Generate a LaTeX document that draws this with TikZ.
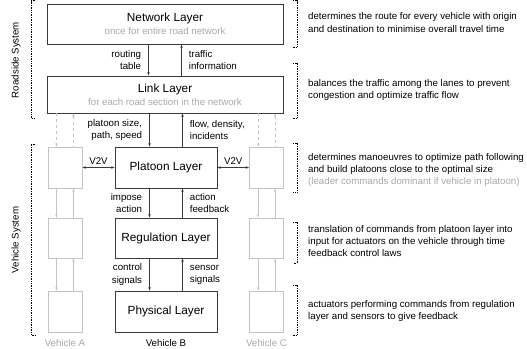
\documentclass[tikz,border=0pt]{standalone}
\usepackage{fontspec}
\setmainfont{Liberation Sans}
\usetikzlibrary{arrows.meta}

\definecolor{boxline}{HTML}{3A3A3A}
\definecolor{ghost}{HTML}{C4C4C4}
\definecolor{subtext}{HTML}{A8A8A8}
\newcommand{\layerfont}{\fontsize{11.8}{14}\selectfont}
\newcommand{\notefont}{\fontsize{9.7}{12.2}\selectfont}

\begin{document}
\begin{tikzpicture}[x=1pt,y=-1pt,
		>={Stealth[length=3.5pt,width=2.6pt]},
		layer/.style={rectangle,draw=boxline,line width=0.9pt,align=center,inner sep=0pt,font=\notefont},
		ghostbox/.style={rectangle,draw=ghost,line width=0.9pt,minimum width=34pt},
		ghostline/.style={draw=ghost,line width=0.9pt},
		flow/.style={draw=boxline,line width=0.8pt},
		note/.style={font=\notefont,align=left,anchor=west,inner sep=0pt},
		leftlbl/.style={font=\notefont,align=right,anchor=east,inner sep=0pt,xshift=-7pt},
		rightlbl/.style={font=\notefont,align=left,anchor=west,inner sep=0pt,xshift=7pt},
		lbl/.style={font=\notefont,inner sep=0pt},
		bracket/.style={densely dotted,line width=0.7pt}]
		\useasboundingbox (0,0) rectangle (527,348);

		% roadside system
		\node[layer,minimum width=236pt,minimum height=40pt] (network) at (165,24)
			{{\layerfont Network Layer}\\[1pt]{\color{subtext}once for entire road network}};
		\node[layer,minimum width=236pt,minimum height=37pt] (link) at (165,94.5)
			{{\layerfont Link Layer}\\[1pt]{\color{subtext}for each road section in the network}};

		% vehicle B
		\node[layer,minimum width=102pt,minimum height=41pt] (platoon) at (166,167.5) {\layerfont Platoon Layer};
		\node[layer,minimum width=102pt,minimum height=40pt] (regulation) at (166,238) {\layerfont Regulation Layer};
		\node[layer,minimum width=102pt,minimum height=41pt] (physical) at (166,311.5) {\layerfont Physical Layer};

		% vehicles A and C
		\node[ghostbox,minimum height=41pt] (a1) at (65,167.5) {};
		\node[ghostbox,minimum height=40pt] (a2) at (65,238) {};
		\node[ghostbox,minimum height=41pt] (a3) at (65,311.5) {};
		\node[ghostbox,minimum height=41pt] (c1) at (266.5,167.5) {};
		\node[ghostbox,minimum height=40pt] (c2) at (266.5,238) {};
		\node[ghostbox,minimum height=41pt] (c3) at (266.5,311.5) {};

		\node[lbl,text=subtext] (vehA) at (65,343) {Vehicle A};
		\node[lbl] (vehB) at (166,343) {Vehicle B};
		\node[lbl,text=subtext] (vehC) at (266.5,343) {Vehicle C};

		% connections
		\draw[flow,->] ([xshift=-16.5pt]network.south) -- node[leftlbl] {routing\\table} ([xshift=-16.5pt]link.north);
		\draw[flow,<-] ([xshift=16.5pt]network.south) -- node[rightlbl] {traffic\\information} ([xshift=16.5pt]link.north);
		\draw[flow,->] ([xshift=-16.5pt]platoon.north |- link.south) -- node[leftlbl] {platoon size,\\path, speed} ([xshift=-16.5pt]platoon.north);
		\draw[flow,<-] ([xshift=16.5pt]platoon.north |- link.south) -- node[rightlbl] {flow, density,\\incidents} ([xshift=16.5pt]platoon.north);
		\draw[flow,->] ([xshift=-16.5pt]platoon.south) -- node[leftlbl] {impose\\action} ([xshift=-16.5pt]regulation.north);
		\draw[flow,<-] ([xshift=16.5pt]platoon.south) -- node[rightlbl] {action\\feedback} ([xshift=16.5pt]regulation.north);
		\draw[flow,->] ([xshift=-16.5pt]regulation.south) -- node[leftlbl] {control\\signals} ([xshift=-16.5pt]physical.north);
		\draw[flow,<-] ([xshift=16.5pt]regulation.south) -- node[rightlbl] {sensor\\signals} ([xshift=16.5pt]physical.north);
		\draw[flow,<->] (a1) -- node[lbl,above=3pt] {V2V} (platoon);
		\draw[flow,<->] (platoon) -- node[lbl,above=3pt] {V2V} (c1);

		\draw[ghostline,dashed,->] ([xshift=-8.5pt]a1.north |- link.south) -- ([xshift=-8.5pt]a1.north);
		\draw[ghostline,dashed,<-] ([xshift=8.5pt]a1.north |- link.south) -- ([xshift=8.5pt]a1.north);
		\draw[ghostline,dashed,->] ([xshift=-8.5pt]c1.north |- link.south) -- ([xshift=-8.5pt]c1.north);
		\draw[ghostline,dashed,<-] ([xshift=8.5pt]c1.north |- link.south) -- ([xshift=8.5pt]c1.north);
		\draw[ghostline,->] ([xshift=-8.5pt]a1.south) -- ([xshift=-8.5pt]a2.north);
		\draw[ghostline,<-] ([xshift=8.5pt]a1.south) -- ([xshift=8.5pt]a2.north);
		\draw[ghostline,->] ([xshift=-8.5pt]a2.south) -- ([xshift=-8.5pt]a3.north);
		\draw[ghostline,<-] ([xshift=8.5pt]a2.south) -- ([xshift=8.5pt]a3.north);
		\draw[ghostline,->] ([xshift=-8.5pt]c1.south) -- ([xshift=-8.5pt]c2.north);
		\draw[ghostline,<-] ([xshift=8.5pt]c1.south) -- ([xshift=8.5pt]c2.north);
		\draw[ghostline,->] ([xshift=-8.5pt]c2.south) -- ([xshift=-8.5pt]c3.north);
		\draw[ghostline,<-] ([xshift=8.5pt]c2.south) -- ([xshift=8.5pt]c3.north);

		% system braces
		\node[lbl,rotate=90] (roadside) at (16,60) {Roadside System};
		\node[lbl,rotate=90] (vehsys) at (16,240) {Vehicle System};
		\draw[bracket] (35,0.5) -- (31,0.5) -- (31,118) -- (35,118);
		\draw[bracket] (35,144) -- (31,144) -- (31,335) -- (35,335);

		% descriptions
		\node[note] (netnote) at (308,22.5) {determines the route for every vehicle with origin\\and destination to minimise overall travel time};
		\node[note] (linknote) at (308,90) {balances the traffic among the lanes to prevent\\congestion and optimize traffic flow};
		\node[note] (platnote) at (308,170) {determines manoeuvres to optimize path following\\and build platoons close to the optimal size\\{\color{subtext}(leader commands dominant if vehicle in platoon)}};
		\node[note] (regnote) at (308,241) {translation of commands from platoon layer into\\input for actuators on the vehicle through time\\feedback control laws};
		\node[note] (physnote) at (308,311) {actuators performing commands from regulation\\layer and sensors to give feedback};
		\draw[bracket] (293,0.5) -- (297,0.5) -- (297,47) -- (293,47);
		\draw[bracket] (293,63) -- (297,63) -- (297,118) -- (293,118);
		\draw[bracket] (293,143) -- (297,143) -- (297,192) -- (293,192);
		\draw[bracket] (293,222) -- (297,222) -- (297,263) -- (293,263);
		\draw[bracket] (293,285) -- (297,285) -- (297,335) -- (293,335);
	\end{tikzpicture}
\end{document}
